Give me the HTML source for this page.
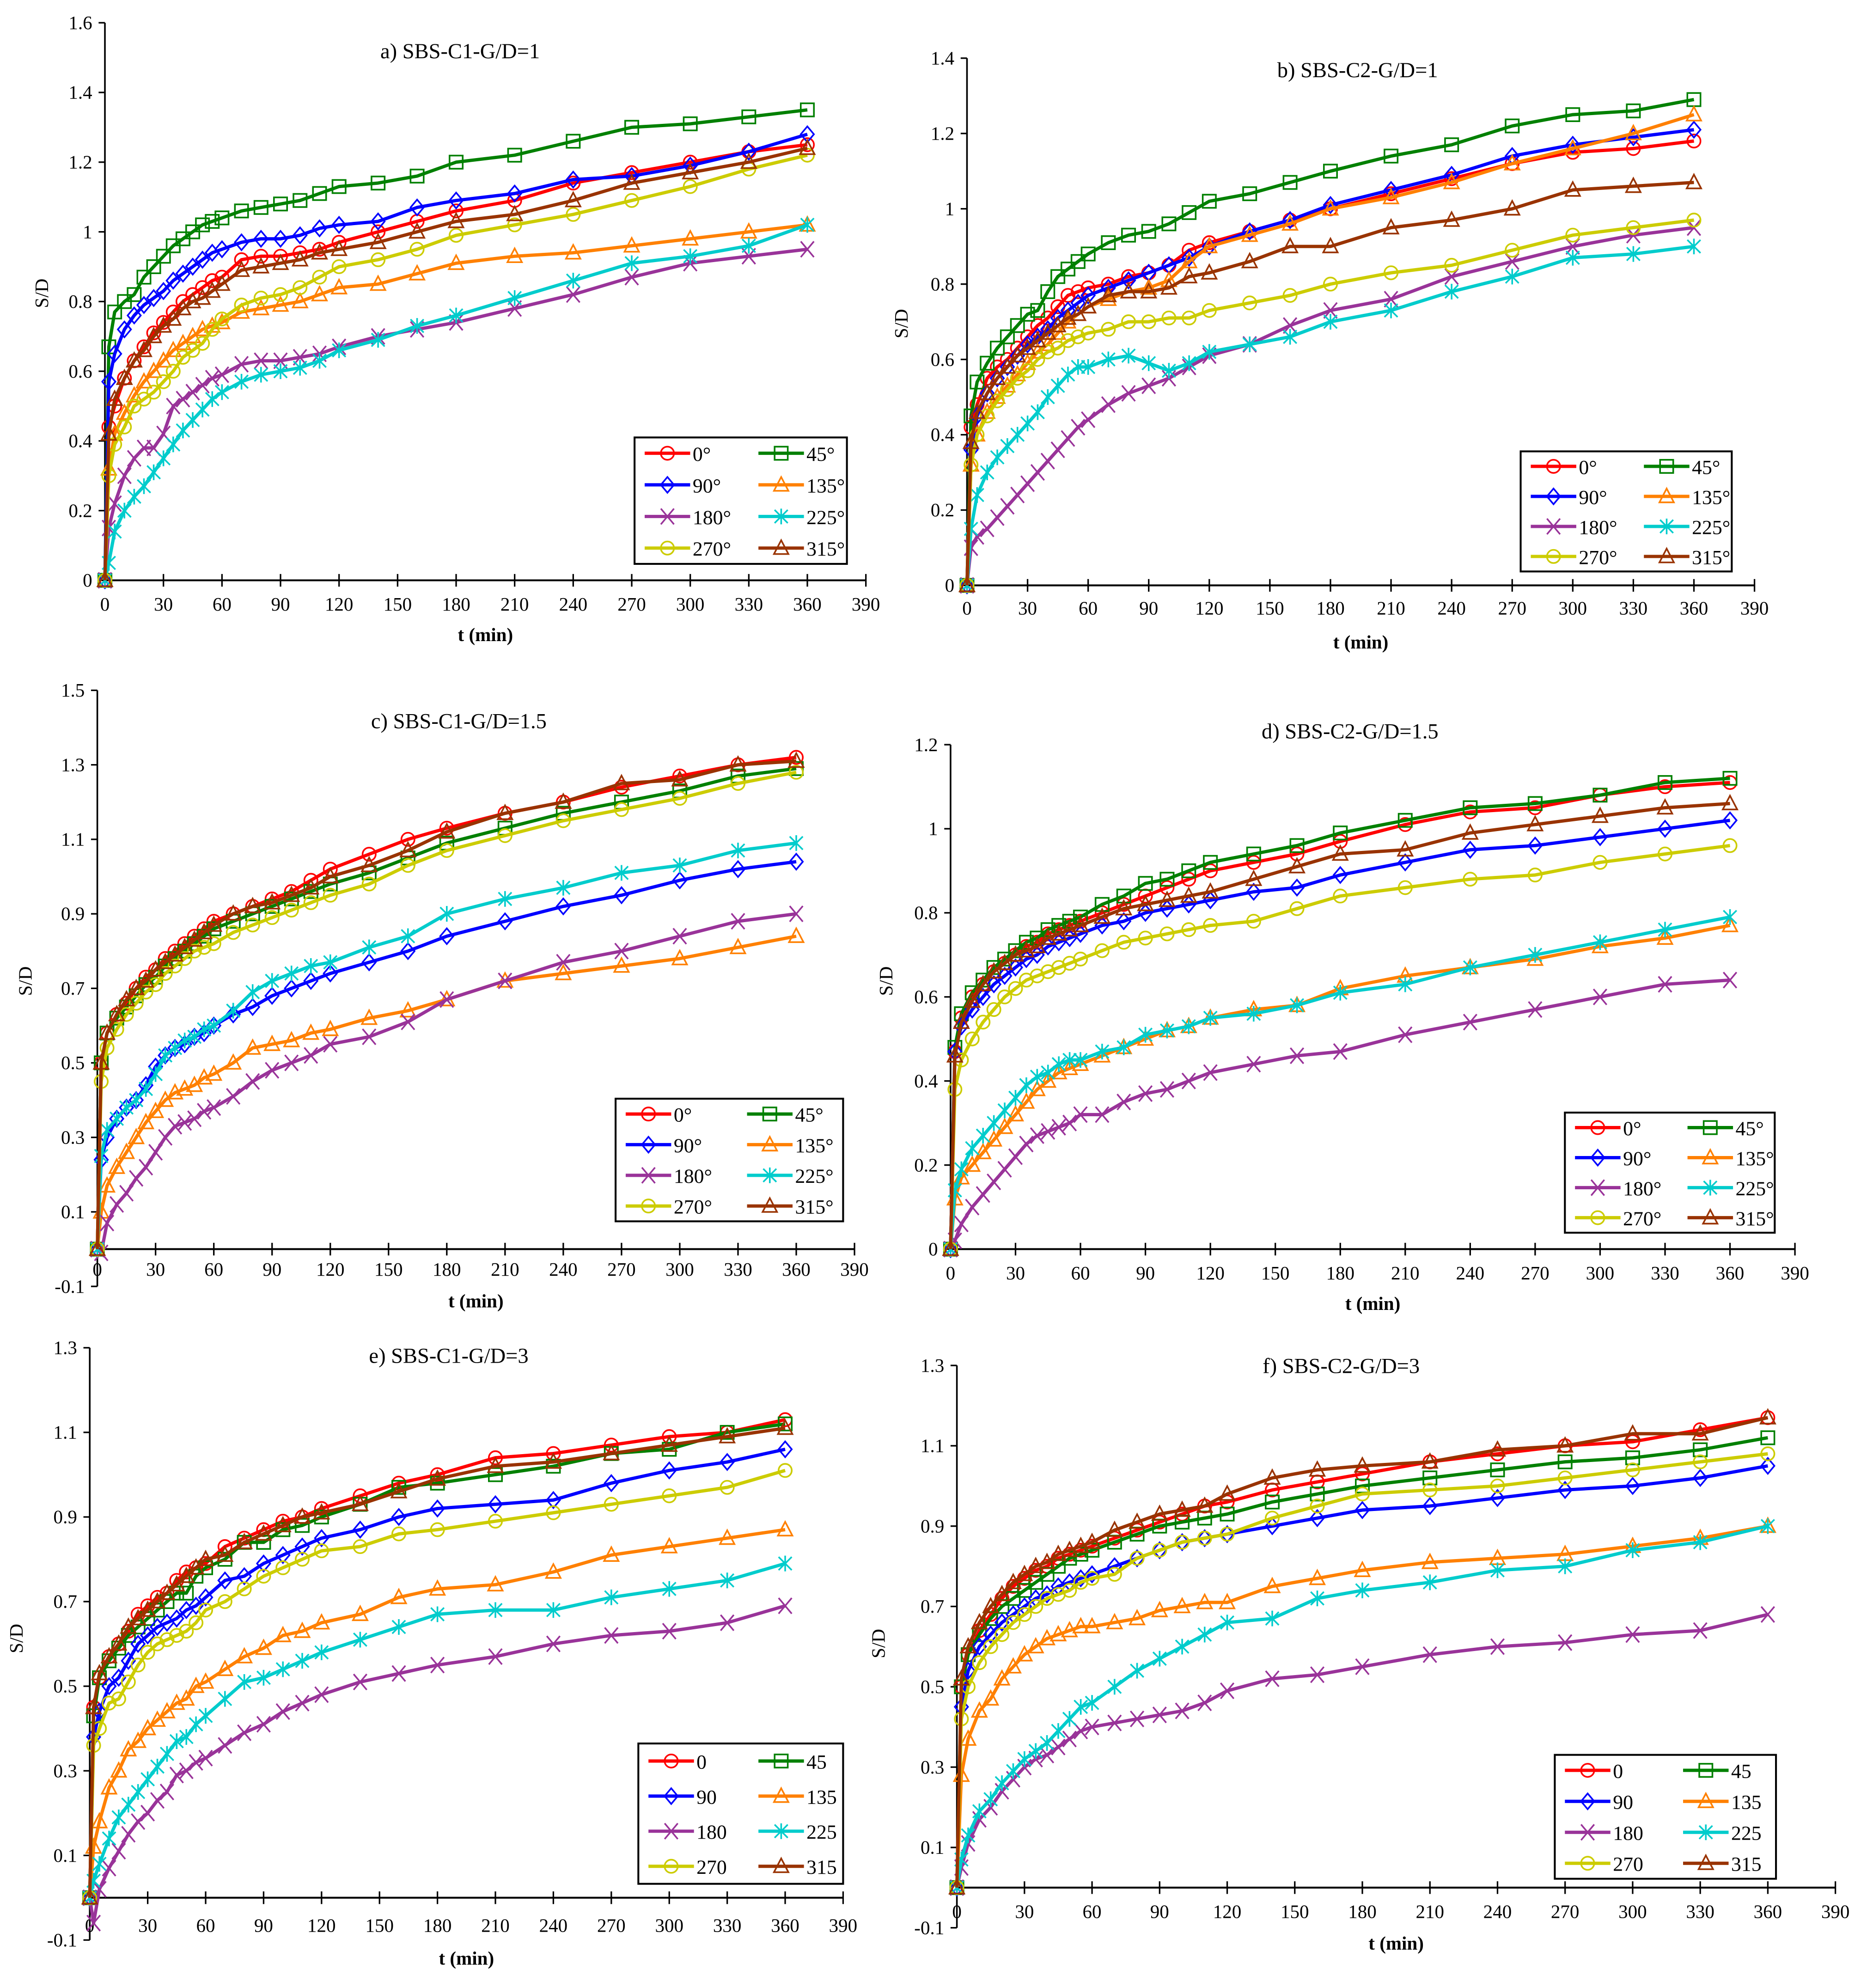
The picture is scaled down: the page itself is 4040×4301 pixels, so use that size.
<!DOCTYPE html>
<html><head><meta charset="utf-8">
<style>
html,body{margin:0;padding:0;background:#fff;}
svg{display:block;}
text{font-family:"Liberation Serif",serif;fill:#000;}
</style></head>
<body>
<svg id="chart" width="4040" height="4301" viewBox="0 0 1477 1572.4" preserveAspectRatio="none" xmlns="http://www.w3.org/2000/svg"></svg>
<script>
const times = [0,2,5,10,15,20,25,30,35,40,45,50,55,60,70,80,90,100,110,120,140,160,180,210,240,270,300,330,360];
const xTicks = [0,30,60,90,120,150,180,210,240,270,300,330,360,390];
const seriesNamesDeg = ["0°","45°","90°","135°","180°","225°","270°","315°"];
const seriesNamesPlain = ["0","45","90","135","180","225","270","315"];
const colors = ["#ff0000","#008000","#0000ff","#ff8000","#993399","#00cccc","#cccc00","#993300"];
const markers = ["circle","square","diamond","triangle","x","star","circle","triangle"];

const aTicks = [0,0.2,0.4,0.6,0.8,1,1.2,1.4,1.6];
const a0 = [0,0.44,0.5,0.58,0.63,0.67,0.71,0.74,0.77,0.8,0.82,0.84,0.86,0.87,0.92,0.93,0.93,0.94,0.95,0.97,1.0,1.03,1.06,1.09,1.14,1.17,1.2,1.23,1.25];
const a45 = [0,0.67,0.77,0.8,0.82,0.87,0.9,0.93,0.96,0.98,1.0,1.02,1.03,1.04,1.06,1.07,1.08,1.09,1.11,1.13,1.14,1.16,1.2,1.22,1.26,1.3,1.31,1.33,1.35];
const a90 = [0,0.57,0.65,0.72,0.76,0.79,0.81,0.83,0.86,0.88,0.9,0.92,0.94,0.95,0.97,0.98,0.98,0.99,1.01,1.02,1.03,1.07,1.09,1.11,1.15,1.16,1.19,1.23,1.28];
const a135 = [0,0.32,0.42,0.48,0.53,0.57,0.6,0.63,0.66,0.68,0.7,0.72,0.73,0.74,0.77,0.78,0.79,0.8,0.82,0.84,0.85,0.88,0.91,0.93,0.94,0.96,0.98,1.0,1.02];
const a180 = [0,0.15,0.22,0.3,0.35,0.38,0.38,0.42,0.5,0.52,0.54,0.56,0.58,0.59,0.62,0.63,0.63,0.64,0.65,0.67,0.7,0.72,0.74,0.78,0.82,0.87,0.91,0.93,0.95];
const a225 = [0,0.05,0.14,0.2,0.24,0.27,0.31,0.35,0.39,0.43,0.46,0.49,0.52,0.54,0.57,0.59,0.6,0.61,0.63,0.66,0.69,0.73,0.76,0.81,0.86,0.91,0.93,0.96,1.02];
const a270 = [0,0.3,0.39,0.44,0.5,0.52,0.54,0.57,0.6,0.64,0.66,0.68,0.72,0.75,0.79,0.81,0.82,0.84,0.87,0.9,0.92,0.95,0.99,1.02,1.05,1.09,1.13,1.18,1.22];
const a315 = [0,0.42,0.52,0.58,0.63,0.66,0.7,0.73,0.75,0.78,0.8,0.81,0.83,0.85,0.89,0.9,0.91,0.92,0.94,0.95,0.97,1.0,1.03,1.05,1.09,1.14,1.17,1.2,1.24];

const bTicks = [0,0.2,0.4,0.6,0.8,1,1.2,1.4];
const b0 = [0,0.42,0.48,0.55,0.58,0.6,0.63,0.66,0.69,0.71,0.74,0.77,0.78,0.79,0.8,0.82,0.83,0.85,0.89,0.91,0.94,0.97,1.0,1.04,1.08,1.12,1.15,1.16,1.18];
const b45 = [0,0.45,0.54,0.59,0.63,0.66,0.69,0.72,0.73,0.78,0.82,0.84,0.86,0.88,0.91,0.93,0.94,0.96,0.99,1.02,1.04,1.07,1.1,1.14,1.17,1.22,1.25,1.26,1.29];
const b90 = [0,0.36,0.45,0.51,0.55,0.58,0.61,0.64,0.66,0.68,0.71,0.73,0.75,0.77,0.79,0.81,0.83,0.85,0.87,0.9,0.94,0.97,1.01,1.05,1.09,1.14,1.17,1.19,1.21];
const b135 = [0,0.32,0.4,0.46,0.5,0.53,0.56,0.59,0.62,0.64,0.67,0.7,0.72,0.74,0.76,0.78,0.79,0.81,0.86,0.9,0.93,0.96,1.0,1.03,1.07,1.12,1.16,1.2,1.25];
const b180 = [0,0.1,0.13,0.15,0.18,0.21,0.24,0.27,0.3,0.33,0.36,0.39,0.42,0.44,0.48,0.51,0.53,0.55,0.58,0.61,0.64,0.69,0.73,0.76,0.82,0.86,0.9,0.93,0.95];
const b225 = [0,0.15,0.24,0.3,0.34,0.37,0.4,0.43,0.46,0.5,0.53,0.56,0.58,0.58,0.6,0.61,0.59,0.57,0.59,0.62,0.64,0.66,0.7,0.73,0.78,0.82,0.87,0.88,0.9];
const b270 = [0,0.32,0.4,0.45,0.49,0.52,0.55,0.57,0.6,0.62,0.63,0.65,0.66,0.67,0.68,0.7,0.7,0.71,0.71,0.73,0.75,0.77,0.8,0.83,0.85,0.89,0.93,0.95,0.97];
const b315 = [0,0.38,0.46,0.51,0.55,0.58,0.61,0.63,0.65,0.67,0.69,0.71,0.72,0.74,0.77,0.78,0.78,0.79,0.82,0.83,0.86,0.9,0.9,0.95,0.97,1.0,1.05,1.06,1.07];

const cTicks = [-0.1,0.1,0.3,0.5,0.7,0.9,1.1,1.3,1.5];
const c0 = [0,0.5,0.58,0.63,0.66,0.7,0.73,0.75,0.78,0.8,0.82,0.84,0.86,0.88,0.9,0.92,0.94,0.96,0.99,1.02,1.06,1.1,1.13,1.17,1.2,1.24,1.27,1.3,1.32];
const c45 = [0,0.5,0.58,0.62,0.65,0.68,0.71,0.73,0.76,0.78,0.8,0.82,0.84,0.86,0.88,0.9,0.92,0.94,0.96,0.98,1.01,1.05,1.09,1.13,1.17,1.2,1.23,1.27,1.29];
const c90 = [0,0.24,0.3,0.35,0.38,0.4,0.44,0.49,0.52,0.54,0.55,0.57,0.58,0.6,0.63,0.65,0.68,0.7,0.72,0.74,0.77,0.8,0.84,0.88,0.92,0.95,0.99,1.02,1.04];
const c135 = [0,0.1,0.17,0.22,0.26,0.3,0.34,0.37,0.4,0.42,0.43,0.44,0.46,0.47,0.5,0.54,0.55,0.56,0.58,0.59,0.62,0.64,0.67,0.72,0.74,0.76,0.78,0.81,0.84];
const c180 = [0,-0.01,0.07,0.12,0.15,0.19,0.22,0.26,0.3,0.33,0.34,0.35,0.37,0.38,0.41,0.45,0.48,0.5,0.52,0.55,0.57,0.61,0.67,0.72,0.77,0.8,0.84,0.88,0.9];
const c225 = [0,0.25,0.32,0.35,0.38,0.4,0.43,0.47,0.52,0.54,0.56,0.57,0.59,0.6,0.64,0.69,0.72,0.74,0.76,0.77,0.81,0.84,0.9,0.94,0.97,1.01,1.03,1.07,1.09];
const c270 = [0,0.45,0.54,0.59,0.63,0.66,0.69,0.71,0.74,0.76,0.78,0.8,0.81,0.82,0.85,0.87,0.89,0.91,0.93,0.95,0.98,1.03,1.07,1.11,1.15,1.18,1.21,1.25,1.28];
const c315 = [0,0.5,0.58,0.63,0.67,0.7,0.72,0.75,0.77,0.79,0.81,0.83,0.85,0.87,0.9,0.92,0.93,0.95,0.97,1.0,1.03,1.07,1.12,1.17,1.2,1.25,1.26,1.3,1.31];

const dTicks = [0,0.2,0.4,0.6,0.8,1,1.2];
const d0 = [0,0.47,0.55,0.6,0.63,0.66,0.68,0.7,0.72,0.73,0.75,0.76,0.77,0.78,0.8,0.82,0.84,0.86,0.88,0.9,0.92,0.94,0.97,1.01,1.04,1.05,1.08,1.1,1.11];
const d45 = [0,0.48,0.56,0.61,0.64,0.67,0.69,0.71,0.73,0.74,0.76,0.77,0.78,0.79,0.82,0.84,0.87,0.88,0.9,0.92,0.94,0.96,0.99,1.02,1.05,1.06,1.08,1.11,1.12];
const d90 = [0,0.47,0.53,0.57,0.6,0.63,0.65,0.67,0.69,0.7,0.72,0.73,0.74,0.75,0.77,0.78,0.8,0.81,0.82,0.83,0.85,0.86,0.89,0.92,0.95,0.96,0.98,1.0,1.02];
const d135 = [0,0.12,0.17,0.2,0.23,0.26,0.29,0.32,0.35,0.38,0.4,0.42,0.43,0.44,0.46,0.48,0.5,0.52,0.53,0.55,0.57,0.58,0.62,0.65,0.67,0.69,0.72,0.74,0.77];
const d180 = [0,0.02,0.06,0.1,0.13,0.16,0.19,0.22,0.25,0.27,0.28,0.29,0.3,0.32,0.32,0.35,0.37,0.38,0.4,0.42,0.44,0.46,0.47,0.51,0.54,0.57,0.6,0.63,0.64];
const d225 = [0,0.14,0.19,0.24,0.27,0.3,0.33,0.36,0.39,0.41,0.42,0.44,0.45,0.45,0.47,0.48,0.51,0.52,0.53,0.55,0.56,0.58,0.61,0.63,0.67,0.7,0.73,0.76,0.79];
const d270 = [0,0.38,0.45,0.5,0.54,0.57,0.6,0.62,0.64,0.65,0.66,0.67,0.68,0.69,0.71,0.73,0.74,0.75,0.76,0.77,0.78,0.81,0.84,0.86,0.88,0.89,0.92,0.94,0.96];
const d315 = [0,0.46,0.54,0.59,0.63,0.66,0.68,0.7,0.71,0.72,0.74,0.75,0.76,0.77,0.79,0.81,0.82,0.83,0.84,0.85,0.88,0.91,0.94,0.95,0.99,1.01,1.03,1.05,1.06];

const eTicks = [-0.1,0.1,0.3,0.5,0.7,0.9,1.1,1.3];
const e0 = [0,0.45,0.52,0.57,0.6,0.63,0.67,0.69,0.71,0.72,0.75,0.77,0.78,0.79,0.83,0.85,0.87,0.89,0.9,0.92,0.95,0.98,1.0,1.04,1.05,1.07,1.09,1.1,1.13];
const e45 = [0,0.43,0.52,0.56,0.59,0.62,0.64,0.66,0.68,0.7,0.72,0.72,0.76,0.78,0.8,0.84,0.84,0.87,0.88,0.9,0.93,0.97,0.98,1.0,1.02,1.05,1.06,1.1,1.12];
const e90 = [0,0.38,0.44,0.5,0.52,0.56,0.6,0.62,0.64,0.65,0.66,0.68,0.69,0.71,0.75,0.76,0.79,0.81,0.83,0.85,0.87,0.9,0.92,0.93,0.94,0.98,1.01,1.03,1.06];
const e135 = [0,0.12,0.18,0.26,0.3,0.35,0.37,0.4,0.42,0.44,0.46,0.47,0.5,0.51,0.54,0.57,0.59,0.62,0.63,0.65,0.67,0.71,0.73,0.74,0.77,0.81,0.83,0.85,0.87];
const e180 = [0,-0.06,0.02,0.07,0.11,0.15,0.18,0.2,0.23,0.25,0.29,0.3,0.32,0.33,0.36,0.39,0.41,0.44,0.46,0.48,0.51,0.53,0.55,0.57,0.6,0.62,0.63,0.65,0.69];
const e225 = [0,0.04,0.08,0.14,0.19,0.22,0.25,0.28,0.31,0.34,0.37,0.38,0.41,0.43,0.47,0.51,0.52,0.54,0.56,0.58,0.61,0.64,0.67,0.68,0.68,0.71,0.73,0.75,0.79];
const e270 = [0,0.36,0.4,0.46,0.47,0.51,0.55,0.58,0.6,0.61,0.62,0.63,0.65,0.68,0.7,0.73,0.76,0.78,0.8,0.82,0.83,0.86,0.87,0.89,0.91,0.93,0.95,0.97,1.01];
const e315 = [0,0.45,0.53,0.57,0.6,0.64,0.66,0.68,0.7,0.72,0.74,0.76,0.78,0.8,0.81,0.84,0.86,0.88,0.9,0.91,0.93,0.96,0.99,1.02,1.03,1.05,1.07,1.09,1.11];

const fTicks = [-0.1,0.1,0.3,0.5,0.7,0.9,1.1,1.3];
const f0 = [0,0.5,0.58,0.64,0.68,0.72,0.75,0.77,0.79,0.8,0.82,0.83,0.84,0.85,0.87,0.89,0.91,0.93,0.95,0.96,0.99,1.01,1.03,1.06,1.08,1.1,1.11,1.14,1.17];
const f45 = [0,0.5,0.58,0.63,0.67,0.7,0.72,0.74,0.76,0.78,0.8,0.82,0.83,0.84,0.86,0.88,0.9,0.91,0.92,0.93,0.96,0.98,1.0,1.02,1.04,1.06,1.07,1.09,1.12];
const f90 = [0,0.45,0.54,0.6,0.63,0.66,0.68,0.7,0.72,0.73,0.75,0.76,0.77,0.78,0.8,0.82,0.84,0.86,0.87,0.88,0.9,0.92,0.94,0.95,0.97,0.99,1.0,1.02,1.05];
const f135 = [0,0.28,0.37,0.44,0.47,0.52,0.55,0.58,0.6,0.62,0.63,0.64,0.65,0.65,0.66,0.67,0.69,0.7,0.71,0.71,0.75,0.77,0.79,0.81,0.82,0.83,0.85,0.87,0.9];
const f180 = [0,0.05,0.11,0.17,0.2,0.24,0.27,0.3,0.32,0.33,0.35,0.37,0.39,0.4,0.41,0.42,0.43,0.44,0.46,0.49,0.52,0.53,0.55,0.58,0.6,0.61,0.63,0.64,0.68];
const f225 = [0,0.07,0.13,0.19,0.22,0.26,0.29,0.32,0.34,0.36,0.39,0.42,0.45,0.46,0.5,0.54,0.57,0.6,0.63,0.66,0.67,0.72,0.74,0.76,0.79,0.8,0.84,0.86,0.9];
const f270 = [0,0.42,0.5,0.56,0.6,0.63,0.66,0.68,0.7,0.72,0.73,0.74,0.76,0.77,0.78,0.82,0.84,0.86,0.87,0.88,0.92,0.95,0.98,0.99,1.0,1.02,1.04,1.06,1.08];
const f315 = [0,0.52,0.6,0.66,0.7,0.73,0.76,0.78,0.8,0.81,0.83,0.84,0.85,0.86,0.89,0.91,0.93,0.94,0.95,0.98,1.02,1.04,1.05,1.06,1.09,1.1,1.13,1.13,1.17];

const NS = "http://www.w3.org/2000/svg";
const svg = document.getElementById("chart");
function mk(tag, attrs, parent){
  const e = document.createElementNS(NS, tag);
  for (const k in attrs) e.setAttribute(k, attrs[k]);
  (parent||svg).appendChild(e);
  return e;
}
function marker(g, type, x, y, col){
  const s = 5.2;
  const st = {fill:"none", stroke:col, "stroke-width":1.3};
  let m;
  if (type==="circle") m = mk("circle", Object.assign({cx:x,cy:y,r:s},st), g);
  else if (type==="square") m = mk("rect", Object.assign({x:x-s,y:y-s,width:2*s,height:2*s},st), g);
  else if (type==="diamond") m = mk("path", Object.assign({d:`M${x} ${y-s-1}L${x+s} ${y}L${x} ${y+s+1}L${x-s} ${y}Z`},st), g);
  else if (type==="triangle") m = mk("path", Object.assign({d:`M${x} ${y-s-1}L${x+s+0.5} ${y+s-0.5}L${x-s-0.5} ${y+s-0.5}Z`},st), g);
  else if (type==="x") m = mk("path", Object.assign({d:`M${x-s} ${y-s-1}L${x+s} ${y+s+1}M${x+s} ${y-s-1}L${x-s} ${y+s+1}`},st), g);
  else m = mk("path", Object.assign({d:`M${x-s} ${y-s}L${x+s} ${y+s}M${x+s} ${y-s}L${x-s} ${y+s}M${x} ${y-s-1}L${x} ${y+s+1}`},st), g);
  
  
}

function panel(p){
  const g = mk("g", {});
  
  
  const X = t => p.x0 + (t/390)*(p.x1 - p.x0);
  const Y = v => p.yz + (v - 0)*(p.ytop - p.yz)/p.ymax;
  const ticks = p.yticks;
  const yMin = Math.min(0, ticks[0]);
  // y axis
  const ya = mk("line",{x1:X(0),x2:X(0),y1:Y(ticks[ticks.length-1]),y2:Y(yMin),stroke:"#000","stroke-width":1.3},g);
   
  ticks.forEach(v=>{
    mk("line",{x1:X(0)-5,x2:X(0),y1:Y(v),y2:Y(v),stroke:"#000","stroke-width":1.2},g);
    const t = mk("text",{x:X(0)-10,y:Y(v)+5,"text-anchor":"end","font-size":15},g);
    t.textContent = String(v);
     
  });
  // x axis at 0
  const xa = mk("line",{x1:X(0),x2:X(390),y1:Y(0),y2:Y(0),stroke:"#000","stroke-width":1.5},g);
   
  xTicks.forEach(t=>{
    mk("line",{x1:X(t),x2:X(t),y1:Y(0)-5,y2:Y(0)+5,stroke:"#000","stroke-width":1.2},g);
    const tx = mk("text",{x:X(t),y:p.xly,"text-anchor":"middle","font-size":15},g);
    tx.textContent = String(t);
     
  });
  const xt = mk("text",{x:(X(0)+X(390))/2,y:p.xty,"text-anchor":"middle","font-size":15,"font-weight":"bold"},g);
  xt.textContent = "t (min)";
   
  const yt = mk("text",{x:0,y:0,"text-anchor":"middle","font-size":15,transform:`translate(${p.ytx},${p.yty}) rotate(-90)`},g);
  yt.textContent = "S/D";
   
  const ti = mk("text",{x:p.tx,y:p.ty,"text-anchor":"middle","font-size":17},g);
  ti.textContent = p.title;
   
  // series
  p.series.forEach((vals,i)=>{
    const sg = mk("g",{},g);
    
    
    const pts = vals.map((v,k)=>X(times[k]).toFixed(2)+","+Y(v).toFixed(2)).join(" ");
    const pl = mk("polyline",{points:pts,fill:"none",stroke:colors[i],"stroke-width":2.6,"stroke-linejoin":"round"},sg);
     
    vals.forEach((v,k)=>marker(sg, markers[i], X(times[k]), Y(v), colors[i]));
  });
  // legend
  const L = p.leg;
  const lg = mk("g",{},g);
   
  mk("rect",{x:L.x,y:L.y,width:L.w,height:L.h,fill:"#fff",stroke:"#000","stroke-width":1.5},lg);
  const names = p.deg ? seriesNamesDeg : seriesNamesPlain;
  const rowH = L.h/4;
  names.forEach((n,i)=>{
    const col = i%2, row = Math.floor(i/2);
    const lx = L.x + 8 + col*(L.w/2 + 6);
    const ly = L.y + rowH*(row+0.5);
    const e = mk("g",{},lg);
    
    
    mk("line",{x1:lx,x2:lx+36,y1:ly,y2:ly,stroke:colors[i],"stroke-width":2.6},e);
    marker(e, markers[i], lx+18, ly, colors[i]);
    const t = mk("text",{x:lx+38,y:ly+6,"font-size":16},e);
    t.textContent = n;
  });
}

panel({id:"a",title:"a) SBS-C1-G/D=1",x0:83,x1:685,yz:459,ytop:18,ymax:1.6,yticks:aTicks,xly:483,xty:507,ytx:38,yty:232,tx:364,ty:46,deg:true,
  series:[a0,a45,a90,a135,a180,a225,a270,a315],leg:{x:502,y:346,w:168,h:100}});
panel({id:"b",title:"b) SBS-C2-G/D=1",x0:765,x1:1388,yz:463,ytop:46,ymax:1.4,yticks:bTicks,xly:486,xty:513,ytx:718,yty:256,tx:1074,ty:61,deg:true,
  series:[b0,b45,b90,b135,b180,b225,b270,b315],leg:{x:1203,y:357,w:167,h:95}});
panel({id:"c",title:"c) SBS-C1-G/D=1.5",x0:77,x1:676,yz:988,ytop:546,ymax:1.5,yticks:cTicks,xly:1009,xty:1034,ytx:25,yty:776,tx:363,ty:576,deg:true,
  series:[c0,c45,c90,c135,c180,c225,c270,c315],leg:{x:487,y:869,w:180,h:97}});
panel({id:"d",title:"d) SBS-C2-G/D=1.5",x0:752,x1:1420,yz:988,ytop:589,ymax:1.2,yticks:dTicks,xly:1012,xty:1036,ytx:706,yty:776,tx:1068,ty:584,deg:true,
  series:[d0,d45,d90,d135,d180,d225,d270,d315],leg:{x:1238,y:880,w:166,h:95}});
panel({id:"e",title:"e) SBS-C1-G/D=3",x0:71,x1:667,yz:1501,ytop:1066,ymax:1.3,yticks:eTicks,xly:1528,xty:1554,ytx:18,yty:1296,tx:355,ty:1078,deg:false,
  series:[e0,e45,e90,e135,e180,e225,e270,e315],leg:{x:505,y:1379,w:162,h:111}});
panel({id:"f",title:"f) SBS-C2-G/D=3",x0:757,x1:1452,yz:1493,ytop:1080,ymax:1.3,yticks:fTicks,xly:1517,xty:1542,ytx:700,yty:1300,tx:1061,ty:1086,deg:false,
  series:[f0,f45,f90,f135,f180,f225,f270,f315],leg:{x:1230,y:1388,w:175,h:98}});
</script>
</body></html>
